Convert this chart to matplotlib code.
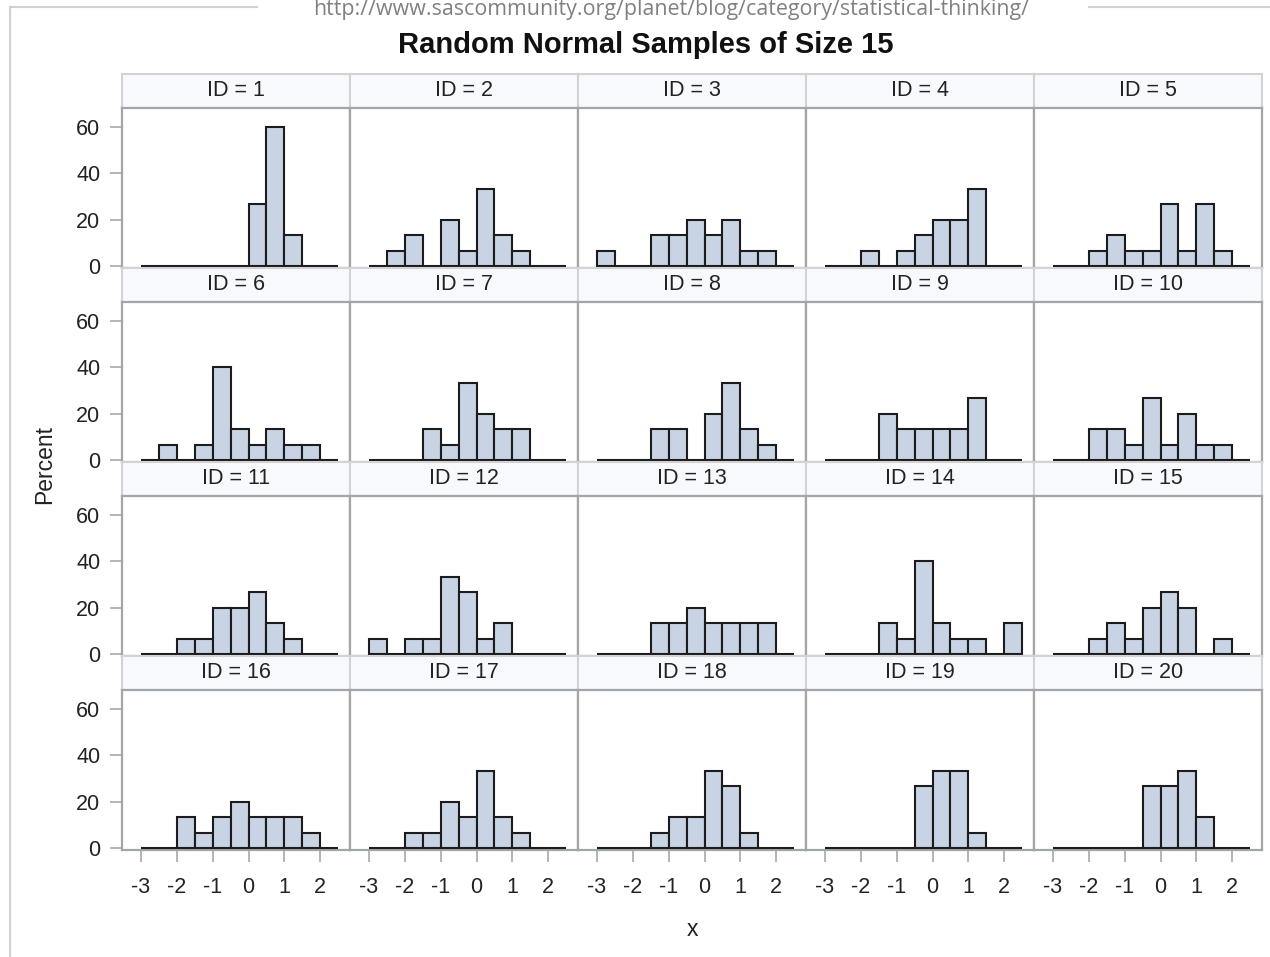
import matplotlib
matplotlib.use("Agg")
import matplotlib.pyplot as plt
from matplotlib.lines import Line2D
import numpy as np

# Histogram bins shared by every panel (width 0.5 from -3 to 2.5)
bin_edges = [-3.0, -2.5, -2.0, -1.5, -1.0, -0.5, 0.0, 0.5, 1.0, 1.5, 2.0, 2.5]
sample_size = 15

# Counts per bin for each sample ID (percent = count / 15)
sample_ids = list(range(1, 21))
counts_by_id = [
    [0, 0, 0, 0, 0, 0, 4, 9, 2, 0, 0],  # ID 1
    [0, 1, 2, 0, 3, 1, 5, 2, 1, 0, 0],  # ID 2
    [1, 0, 0, 2, 2, 3, 2, 3, 1, 1, 0],  # ID 3
    [0, 0, 1, 0, 1, 2, 3, 3, 5, 0, 0],  # ID 4
    [0, 0, 1, 2, 1, 1, 4, 1, 4, 1, 0],  # ID 5
    [0, 1, 0, 1, 6, 2, 1, 2, 1, 1, 0],  # ID 6
    [0, 0, 0, 2, 1, 5, 3, 2, 2, 0, 0],  # ID 7
    [0, 0, 0, 2, 2, 0, 3, 5, 2, 1, 0],  # ID 8
    [0, 0, 0, 3, 2, 2, 2, 2, 4, 0, 0],  # ID 9
    [0, 0, 2, 2, 1, 4, 1, 3, 1, 1, 0],  # ID 10
    [0, 0, 1, 1, 3, 3, 4, 2, 1, 0, 0],  # ID 11
    [1, 0, 1, 1, 5, 4, 1, 2, 0, 0, 0],  # ID 12
    [0, 0, 0, 2, 2, 3, 2, 2, 2, 2, 0],  # ID 13
    [0, 0, 0, 2, 1, 6, 2, 1, 1, 0, 2],  # ID 14
    [0, 0, 1, 2, 1, 3, 4, 3, 0, 1, 0],  # ID 15
    [0, 0, 2, 1, 2, 3, 2, 2, 2, 1, 0],  # ID 16
    [0, 0, 1, 1, 3, 2, 5, 2, 1, 0, 0],  # ID 17
    [0, 0, 0, 1, 2, 2, 5, 4, 1, 0, 0],  # ID 18
    [0, 0, 0, 0, 0, 4, 5, 5, 1, 0, 0],  # ID 19
    [0, 0, 0, 0, 0, 4, 4, 5, 2, 0, 0],  # ID 20
]

x_ticks = [-3, -2, -1, 0, 1, 2]
x_tick_labels = ["-3", "-2", "-1", "0", "1", "2"]
y_ticks = [0, 20, 40, 60]
y_tick_labels = ["0", "20", "40", "60"]

title = "Random Normal Samples of Size 15"
source_url = "http://www.sascommunity.org/planet/blog/category/statistical-thinking/"

plt.rcParams['font.family'] = ['Liberation Sans', 'DejaVu Sans']
plt.rcParams['axes.unicode_minus'] = False

W, H = 1270, 957
fig = plt.figure(figsize=(W / 100, H / 100), dpi=100)
fig.patch.set_facecolor("white")


def fx(px):
    return px / W


def fy(py):
    return 1 - py / H


# Grid geometry in pixels
n_rows, n_cols = 4, 5
left0, col_w = 122, 228
strip_top0, strip_h, plot_h, row_h = 74, 34, 160, 194

bar_fill = "#C8D3E4"
bar_edge = "#1C1C1C"
frame_col = "#A2A6A9"
strip_fill = "#F8F9FD"
strip_edge = "#D2D3D5"
text_col = "#222222"
lab_size = 15.5

edges = np.array(bin_edges)
for i, sid in enumerate(sample_ids):
    r, c = divmod(i, n_cols)
    x0 = left0 + c * col_w
    s_top = strip_top0 + r * row_h
    p_top = s_top + strip_h

    # header strip
    sax = fig.add_axes([fx(x0), fy(p_top), col_w / W, strip_h / H])
    sax.set_facecolor(strip_fill)
    sax.set_xticks([])
    sax.set_yticks([])
    for sp in sax.spines.values():
        sp.set_color(strip_edge)
        sp.set_linewidth(1.5)
    sax.text(0.5, 0.5, f"ID = {sid}", ha="center", va="center",
             fontsize=lab_size, color=text_col, transform=sax.transAxes)

    # histogram panel
    ax = fig.add_axes([fx(x0), fy(p_top + plot_h), col_w / W, plot_h / H])
    pct = np.array(counts_by_id[i]) / sample_size * 100
    ax.bar(edges[:-1], pct, width=0.5, align="edge", color=bar_fill,
           edgecolor=bar_edge, linewidth=1.5, zorder=3)
    ax.set_xlim(-3.53, 2.83)
    ax.set_ylim(-0.86, 68.2)
    for sp in ax.spines.values():
        sp.set_color(frame_col)
        sp.set_linewidth(1.6)

    if c == 0:
        ax.set_yticks(y_ticks)
        ax.set_yticklabels(y_tick_labels)
        ax.tick_params(axis="y", length=8.5, width=1.2, color="#A8A8A8",
                       labelsize=lab_size, labelcolor=text_col, pad=7)
    else:
        ax.set_yticks([])
    if r == n_rows - 1:
        ax.set_xticks(x_ticks)
        ax.set_xticklabels(x_tick_labels)
        ax.tick_params(axis="x", length=8.5, width=1.2, color="#A8A8A8",
                       labelsize=lab_size, labelcolor=text_col, pad=11)
    else:
        ax.set_xticks([])

# axis labels and title
fig.text(fx(692), fy(930), "x", ha="center", va="center",
         fontsize=16.5, color=text_col)
fig.text(fx(45), fy(465), "Percent", ha="center", va="center",
         rotation=90, fontsize=16.5, color=text_col)
fig.text(fx(646), fy(53), title, ha="center", va="baseline",
         fontsize=21, fontweight="bold", color="#111111")

# page decoration around the image
fig.text(fx(671), fy(15), source_url, ha="center", va="baseline",
         fontsize=15.4, color="#808080", family=["Open Sans", "DejaVu Sans"])
border = "#D0D0D0"
fig.add_artist(Line2D([fx(10), fx(257)], [fy(7), fy(7)], color=border, lw=1.5))
fig.add_artist(Line2D([fx(1089), fx(1270)], [fy(7), fy(7)], color=border, lw=1.5))
fig.add_artist(Line2D([fx(10), fx(10)], [fy(7), fy(957)], color=border, lw=1.5))

fig.savefig("out.png", dpi=100)
